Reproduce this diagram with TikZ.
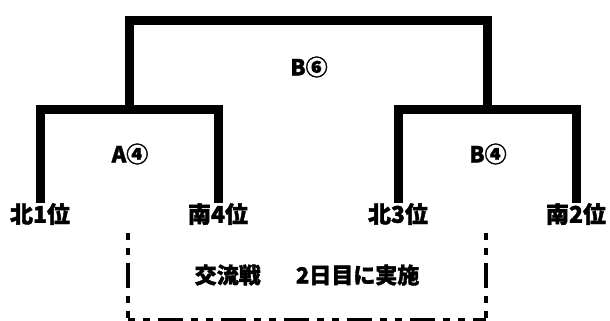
\documentclass[tikz,border=0pt]{standalone}
\usepackage{fontspec}
\newfontfamily\jpfont{Noto Sans CJK JP}[BoldFeatures={FakeBold=1.6}]
\usetikzlibrary{positioning, calc}

\begin{document}
\begin{tikzpicture}[
    x=1pt, y=-1pt,
    team/.style={inner sep=0pt, font=\jpfont\bfseries\fontsize{23}{23}\selectfont},
    game/.style={inner sep=0pt, font=\jpfont\bfseries\fontsize{22}{22}\selectfont},
    bracket/.style={line width=9pt, black},
    openbox/.style={line width=4.5pt, black, dash pattern=on 7pt off 8pt on 7pt off 8pt on 25pt off 8pt},
]
\useasboundingbox (0,0) rectangle (610,321);

% ── Row 1: Teams ──
\node[team] (n1) at (40,214) {北1位};
\node[team] (s4) at (218,214) {南4位};
\node[team] (n3) at (398,214) {北3位};
\node[team] (s2) at (576,214) {南2位};

% ── Row 2: First round ──
\draw[bracket] (n1.north) -- ++(0,-93) -| (s4.north);
\draw[bracket] (n3.north) -- ++(0,-93) -| (s2.north);
\coordinate (ja) at ($(n1.north)!0.5!(s4.north)+(0,-93)$);
\coordinate (jb) at ($(n3.north)!0.5!(s2.north)+(0,-93)$);
\node[game] (ga) at (130,154) {A④};
\node[game] (gb) at (488,154) {B④};

% ── Row 3: Final ──
\draw[bracket] (ja) -- ++(0,-89.5) -| (jb);
\node[game] (gf) at (309,67) {B⑥};

% ── Cross games ──
\node[game] (cross) at (307,275) {交流戦\hspace{1.6em}2日目に実施};
\coordinate (dl) at (128,233);
\coordinate (dr) at (486,233);
\draw[openbox] (dl) -- (dl |- 0,320);
\draw[openbox] (dr) -- (dr |- 0,320);
\draw[openbox] (dl |- 0,320) -- (dr |- 0,320);

\end{tikzpicture}
\end{document}
